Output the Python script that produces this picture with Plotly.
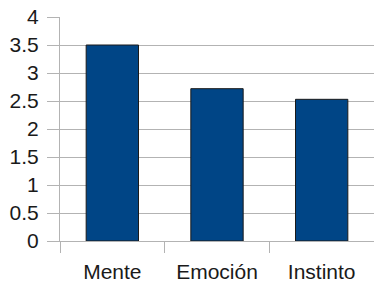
import plotly.graph_objects as go

categories = ["Mente", "Emoción", "Instinto"]
values = [3.5, 2.72, 2.53]
y_ticks = [0, 0.5, 1, 1.5, 2, 2.5, 3, 3.5, 4]
y_tick_labels = ["0", "0.5", "1", "1.5", "2", "2.5", "3", "3.5", "4"]

fig = go.Figure(
    go.Bar(
        x=categories,
        y=values,
        marker=dict(color="#004586", line=dict(color="#1a1a1a", width=1)),
    )
)

fig.update_layout(
    width=374,
    height=284,
    margin=dict(l=60, r=0, t=17, b=43),
    paper_bgcolor="white",
    plot_bgcolor="white",
    bargap=0.5,
    showlegend=False,
    font=dict(family="Liberation Sans, Arial, sans-serif", size=21, color="#1a1a1a"),
)
fig.update_yaxes(
    range=[0, 4],
    tickvals=y_ticks,
    ticktext=y_tick_labels,
    showgrid=True,
    gridcolor="#b3b3b3",
    gridwidth=1,
    zeroline=False,
    showline=True,
    linecolor="#b3b3b3",
    linewidth=1,
    ticks="outside",
    ticklen=12,
    tickcolor="#b3b3b3",
    ticklabelstandoff=4,
    automargin=False,
)
fig.update_xaxes(
    showgrid=False,
    showline=True,
    linecolor="#b3b3b3",
    linewidth=1,
    ticks="outside",
    tickson="boundaries",
    ticklen=11,
    tickcolor="#b3b3b3",
    ticklabelstandoff=12,
    range=[-0.5, 2.5],
    automargin=False,
)

fig.write_html(
    "out.html",
    config={"displayModeBar": False},
    post_script="document.body.style.margin='0';",
)
